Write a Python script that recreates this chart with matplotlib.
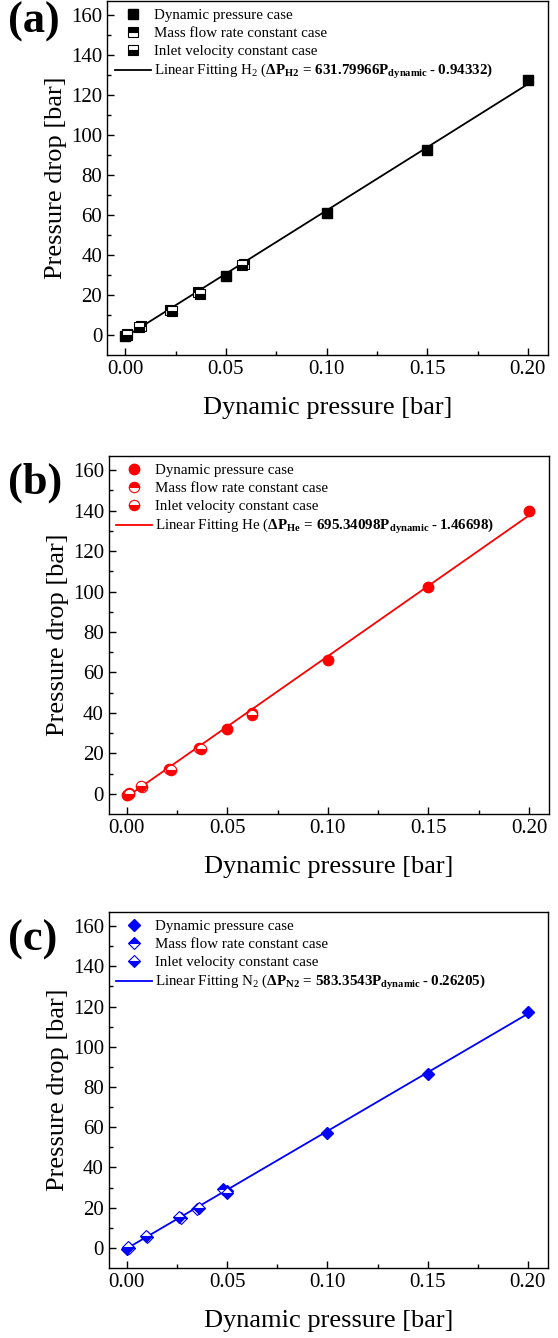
import numpy as np
import matplotlib.pyplot as plt

plt.rcParams['font.family'] = ['Liberation Serif', 'DejaVu Serif']
plt.rcParams['mathtext.fontset'] = 'custom'
plt.rcParams['mathtext.rm'] = 'Liberation Serif'
plt.rcParams['mathtext.it'] = 'Liberation Serif:italic'
plt.rcParams['mathtext.bf'] = 'Liberation Serif:bold'

# (a) H2
h2_dyn_x = [0.0, 0.05, 0.10, 0.15, 0.20]
h2_dyn_y = [-0.5, 29.5, 61.0, 92.5, 127.5]
h2_mass_x = [0.001, 0.008, 0.022, 0.036, 0.059]
h2_mass_y = [0.5, 4.5, 12.5, 21.5, 35.5]
h2_inlet_x = [0.001, 0.007, 0.023, 0.037, 0.058]
h2_inlet_y = [0.0, 4.0, 12.0, 20.5, 35.0]
h2_fit = (631.79966, -0.94332)

# (b) He
he_dyn_x = [0.0, 0.05, 0.10, 0.15, 0.20]
he_dyn_y = [-0.5, 32.0, 66.0, 102.0, 140.0]
he_mass_x = [0.001, 0.0075, 0.021, 0.036, 0.062]
he_mass_y = [0.5, 3.5, 12.5, 22.5, 40.0]
he_inlet_x = [0.001, 0.007, 0.022, 0.037, 0.062]
he_inlet_y = [0.0, 4.0, 12.0, 22.0, 39.0]
he_fit = (695.34098, -1.46698)

# (c) N2
n2_dyn_x = [0.0, 0.05, 0.10, 0.15, 0.20]
n2_dyn_y = [-0.5, 28.5, 57.0, 86.5, 117.5]
n2_mass_x = [0.001, 0.010, 0.027, 0.035, 0.048]
n2_mass_y = [0.0, 5.4, 14.8, 19.2, 29.5]
n2_inlet_x = [0.0005, 0.0095, 0.026, 0.036, 0.050]
n2_inlet_y = [0.5, 6.0, 15.5, 20.0, 27.5]
n2_fit = (583.3543, -0.26205)

labels = ['Dynamic pressure case', 'Mass flow rate constant case', 'Inlet velocity constant case']

panels = [
    ('(a)', 'black', 's', 7, h2_dyn_x, h2_dyn_y, h2_mass_x, h2_mass_y, h2_inlet_x, h2_inlet_y, h2_fit,
     r'Linear Fitting H$_2$ ($\mathbf{\Delta P_{H2}\,=\,631.79966P_{dynamic}\;\text{-}\;0.94332)}$',
     [0.192, 0.7347, 0.790, 0.2646], 1.0 - 22 / 1338),
    ('(b)', 'red', 'o', 7.5, he_dyn_x, he_dyn_y, he_mass_x, he_mass_y, he_inlet_x, he_inlet_y, he_fit,
     r'Linear Fitting He ($\mathbf{\Delta P_{He}\,=\,695.34098P_{dynamic}\;\text{-}\;1.46698)}$',
     [0.195, 0.3916, 0.789, 0.2676], 1.0 - 483 / 1338),
    ('(c)', 'blue', 'D', 6.5, n2_dyn_x, n2_dyn_y, n2_mass_x, n2_mass_y, n2_inlet_x, n2_inlet_y, n2_fit,
     r'Linear Fitting N$_2$ ($\mathbf{\Delta P_{N2}\,=\,583.3543P_{dynamic}\;\text{-}\;0.26205)}$',
     [0.195, 0.0523, 0.787, 0.2661], 1.0 - 940 / 1338),
]

fig = plt.figure(figsize=(5.58, 13.38), dpi=100)

for (tag, c, mk, ms, dx, dy, mx, my, ix, iy, fit, fitlab, rect, ty) in panels:
    ax = fig.add_axes(rect)
    ax.plot(dx, dy, linestyle='none', marker=mk, ms=ms, color=c, label=labels[0], zorder=3)
    ax.plot(mx, my, linestyle='none', marker=mk, ms=ms, color=c, fillstyle='top',
            markerfacecoloralt='white', mew=0.8, label=labels[1], zorder=3)
    ax.plot(ix, iy, linestyle='none', marker=mk, ms=ms, color=c, fillstyle='bottom',
            markerfacecoloralt='white', mew=0.8, label=labels[2], zorder=3)
    xf = np.array([0.0, 0.2])
    ax.plot(xf, fit[0] * xf + fit[1], color=c, lw=1.3, label=fitlab, zorder=2)

    ax.set_xlim(-0.009, 0.21)
    ax.set_ylim(-10, 167)
    ax.set_xticks([0.0, 0.05, 0.10, 0.15, 0.20])
    ax.set_xticklabels(['0.00', '0.05', '0.10', '0.15', '0.20'])
    ax.set_xticks([0.025, 0.075, 0.125, 0.175], minor=True)
    ax.set_yticks(range(0, 161, 20))
    ax.set_yticks(range(10, 161, 20), minor=True)
    ax.tick_params(direction='in', labelsize=15, length=5, width=1)
    ax.tick_params(which='minor', direction='in', length=3, width=1)
    for s in ax.spines.values():
        s.set_linewidth(1.0)
    ax.set_xlabel('Dynamic pressure [bar]', fontsize=19, labelpad=13)
    ax.set_ylabel('Pressure drop [bar]', fontsize=19, labelpad=3)
    ax.legend(loc='upper left', frameon=False, fontsize=10.8, handlelength=2.4,
              borderaxespad=0.1, labelspacing=0.3, handletextpad=0.2,
              bbox_to_anchor=(0.0, 1.0))
    fig.text(0.015, ty, tag, fontsize=32, fontweight='bold', va='center', ha='left')

fig.savefig('out.png', dpi=100)
